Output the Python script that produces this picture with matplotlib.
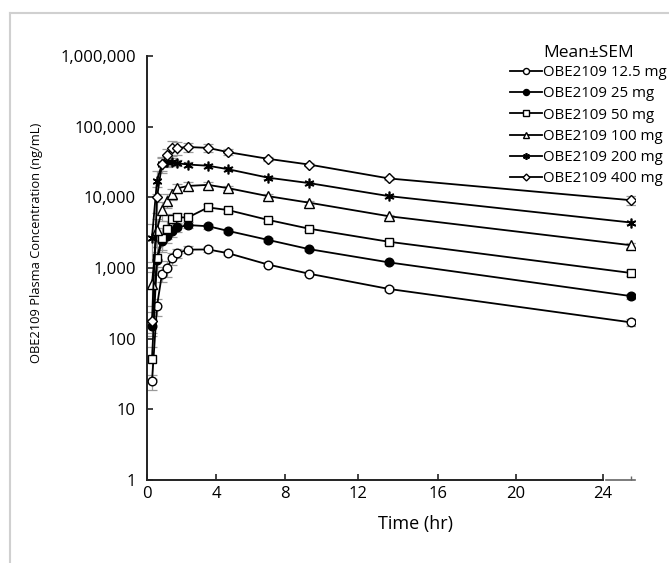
import matplotlib
matplotlib.use("Agg")
import matplotlib.pyplot as plt
import numpy as np
from matplotlib.lines import Line2D
from matplotlib.ticker import FixedLocator, FuncFormatter, NullLocator

plt.rcParams['font.family'] = ['Open Sans', 'DejaVu Sans']

# sampling times, read against the printed time axis (hr)
time_hr = [0.29, 0.58, 0.87, 1.16, 1.45, 1.74, 2.38, 3.54, 4.70, 7.01, 9.32, 13.55, 25.29]

dose_labels = ["OBE2109 12.5 mg", "OBE2109 25 mg", "OBE2109 50 mg",
               "OBE2109 100 mg", "OBE2109 200 mg", "OBE2109 400 mg"]

# mean plasma concentration (ng/mL)
conc_12_5 = [25, 290, 830, 1000, 1370, 1620, 1820, 1830, 1620, 1120, 830, 505, 170]
conc_25 = [150, 1300, 2400, 2850, 3350, 3750, 4050, 3900, 3350, 2500, 1850, 1200, 400]
conc_50 = [52, 1400, 2700, 3600, 4900, 5200, 5200, 7200, 6600, 4800, 3600, 2350, 850]
conc_100 = [590, 3500, 6600, 9000, 11300, 13400, 14500, 15000, 13500, 10400, 8400, 5400, 2100]
conc_200 = [2700, 17300, 29800, 31600, 31600, 30400, 29100, 28000, 25000, 19000, 15900, 10400, 4400]
conc_400 = [180, 10000, 29800, 39100, 50100, 50000, 51500, 50100, 43600, 35100, 29100, 18500, 9100]

# standard error of the mean (ng/mL)
sem_12_5 = [6, 80, 200, 250, 250, 250, 200, 150, 100, 60, 40, 30, 18]
sem_25 = [40, 400, 600, 600, 600, 500, 400, 300, 200, 150, 100, 60, 30]
sem_50 = [25, 600, 1000, 1000, 900, 800, 700, 800, 500, 300, 250, 150, 80]
sem_100 = [300, 1500, 2000, 2000, 2000, 2000, 2000, 1500, 1000, 600, 500, 300, 150]
sem_200 = [1500, 6000, 6000, 5000, 4000, 3000, 2500, 2000, 1500, 1000, 800, 500, 250]
sem_400 = [60, 4000, 8000, 9000, 12000, 10000, 8000, 6000, 4000, 2500, 1500, 1000, 1200]

x_ticks = [0, 4, 8, 12, 16, 20, 24]
y_ticks = [1, 10, 100, 1000, 10000, 100000, 1000000]

# the printed time axis is not evenly spaced: piecewise-linear scale through its ticks
knot_t = np.array([0, 4, 8, 12, 16, 20, 24, 28], dtype=float)
knot_p = np.array([0, 69, 138, 211, 291, 369, 456, 543], dtype=float)


def fwd(t):
    return np.interp(t, knot_t, knot_p)


def inv(p):
    return np.interp(p, knot_p, knot_t)


W, H = 669, 563
fig = plt.figure(figsize=(W / 100, H / 100), dpi=100)
ax = fig.add_axes([147 / W, (H - 480) / H, (635 - 147) / W, (480 - 56) / H])

series = [
    (conc_12_5, sem_12_5, dict(marker='o', mfc='white', ms=6.2)),
    (conc_25, sem_25, dict(marker='o', mfc='black', ms=6.2)),
    (conc_50, sem_50, dict(marker='s', mfc='white', ms=6.2)),
    (conc_100, sem_100, dict(marker='^', mfc='white', ms=6.5)),
    (conc_200, sem_200, dict(marker=(6, 2, 0), mfc='black', ms=7, mew=1.2)),
    (conc_400, sem_400, dict(marker='D', mfc='white', ms=5)),
]

handles = []
for (conc, sem, style), label in zip(series, dose_labels):
    ax.errorbar(time_hr, conc, yerr=sem, fmt='none', ecolor='#9a9a9a',
                elinewidth=0.9, capsize=3.5, capthick=0.9, zorder=1)
    kw = dict(mew=1.0)
    kw.update(style)
    line, = ax.plot(time_hr, conc, color='black', lw=1.3, mec='black',
                    label=label, zorder=3, **kw)
    handles.append(line)

ax.set_xscale('function', functions=(fwd, inv))
ax.set_yscale('log')
ax.set_xlim(0, 25.47)
ax.set_ylim(1, 1e6)

ax.xaxis.set_major_locator(FixedLocator(x_ticks))
ax.xaxis.set_minor_locator(FixedLocator([time_hr[-1]]))
ax.yaxis.set_major_locator(FixedLocator(y_ticks))
ax.yaxis.set_minor_locator(NullLocator())
ax.yaxis.set_major_formatter(FuncFormatter(lambda v, _: f"{int(round(v)):,}"))

for side in ('top', 'right'):
    ax.spines[side].set_visible(False)
for side in ('left', 'bottom'):
    ax.spines[side].set_linewidth(1.4)
    ax.spines[side].set_color('#222222')
ax.spines['bottom'].set_bounds(0, 24)

ax.tick_params(axis='both', which='major', direction='in', length=4, width=1.2,
               labelsize=12, color='#222222', labelcolor='black')
ax.tick_params(axis='x', which='major', pad=4)
ax.tick_params(axis='y', which='major', pad=8)
ax.tick_params(axis='x', which='minor', direction='in', length=3, width=1, color='#666666')

# short axis piece after the break
ax.plot([inv(459), inv(488)], [0, 0], transform=ax.get_xaxis_transform(),
        color='#666666', lw=1.2, clip_on=False, zorder=4)

fig.text(37 / W, 1 - 243 / H, "OBE2109 Plasma Concentration (ng/mL)", rotation=90,
         ha='center', va='center', fontsize=9.3)
fig.text(416 / W, 1 - 524 / H, "Time (hr)", ha='center', va='center', fontsize=13)

fig.text(543 / W, 1 - 53 / H, "Mean±SEM", ha='left', va='center', fontsize=12.5)
ax.legend(handles=handles, loc='upper left', bbox_to_anchor=(510 / W, 1 - 65 / H),
          bbox_transform=fig.transFigure, frameon=False, fontsize=10.8,
          handlelength=2.1, handletextpad=0.1, labelspacing=0.42,
          borderpad=0, borderaxespad=0, markerscale=0.7)

# thin grey frame around the panel
fig.add_artist(Line2D([10 / W, 10 / W], [0, 1 - 13 / H], transform=fig.transFigure,
                      color='#d0d0d0', lw=1.5))
fig.add_artist(Line2D([10 / W, 1], [1 - 13 / H, 1 - 13 / H], transform=fig.transFigure,
                      color='#d0d0d0', lw=1.5))

fig.savefig('out.png', dpi=100)
